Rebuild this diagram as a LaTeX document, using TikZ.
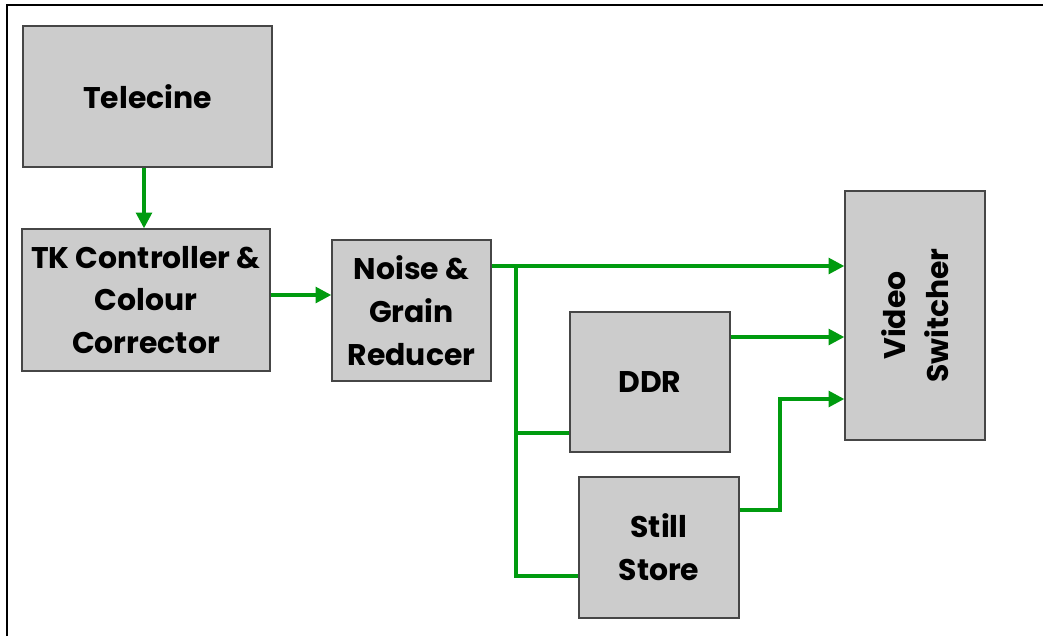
\documentclass[tikz,border=0pt]{standalone}
\usepackage{fontspec}
\setmainfont{Poppins}
\usetikzlibrary{arrows.meta,positioning}
\definecolor{FlowGreen}{RGB}{0,155,15}
\definecolor{BoxGray}{RGB}{204,204,204}
\definecolor{EdgeGray}{RGB}{70,70,70}

\begin{document}
\begin{tikzpicture}[
  x=0.02cm,y=-0.02cm,
  unit/.style={draw=EdgeGray,fill=BoxGray,line width=0.8pt,inner sep=0pt,
               align=center,font=\fontsize{17}{24.4}\selectfont\bfseries},
  flow/.style={draw=FlowGreen,line width=2pt,
               -{Triangle[length=9pt,width=9pt]}},
  feed/.style={draw=FlowGreen,line width=2pt},
]
\useasboundingbox (0,0) rectangle (1043,636);
\draw[line width=1.2pt] (7,636) -- (7,5) -- (1043,5);

\node[unit,minimum width=4.98cm,minimum height=2.82cm] (tele) at (147.5,96.5) {Telecine};
\node[unit,minimum width=4.96cm,minimum height=2.84cm] (tkc) at (146,300) {TK Controller \&\\Colour\\Corrector};
\node[unit,minimum width=3.18cm,minimum height=2.82cm] (nrd) at (411.5,310.5) {Noise \&\\Grain\\Reducer};
\node[unit,minimum width=3.2cm,minimum height=2.8cm] (ddr) at (650,382) {DDR};
\node[unit,minimum width=3.2cm,minimum height=2.82cm] (still) at (659,547.5) {Still\\Store};
\node[unit,minimum width=2.8cm,minimum height=4.98cm] (vsw) at (915,315.5) {};
\node[font=\fontsize{17}{24.4}\selectfont\bfseries,align=center,rotate=90] (vswtext) at (vsw.center) {Video\\Switcher};

\coordinate (split) at (516,266);
\draw[flow] (tele.south -| 144,0) -- (tkc.north -| 144,0);
\draw[flow] (tkc.east |- 0,295) -- (nrd.west |- 0,295);
\draw[flow] (nrd.east |- split) -- (vsw.west |- split);
\draw[feed] (split) |- (still.west |- 0,576);
\draw[feed] (split |- 0,433) -- (ddr.west |- 0,433);
\draw[flow] (ddr.east |- 0,337) -- (vsw.west |- 0,337);
\draw[flow] (still.east |- 0,510) -| (780,399) -- (vsw.west |- 0,399);
\end{tikzpicture}
\end{document}
